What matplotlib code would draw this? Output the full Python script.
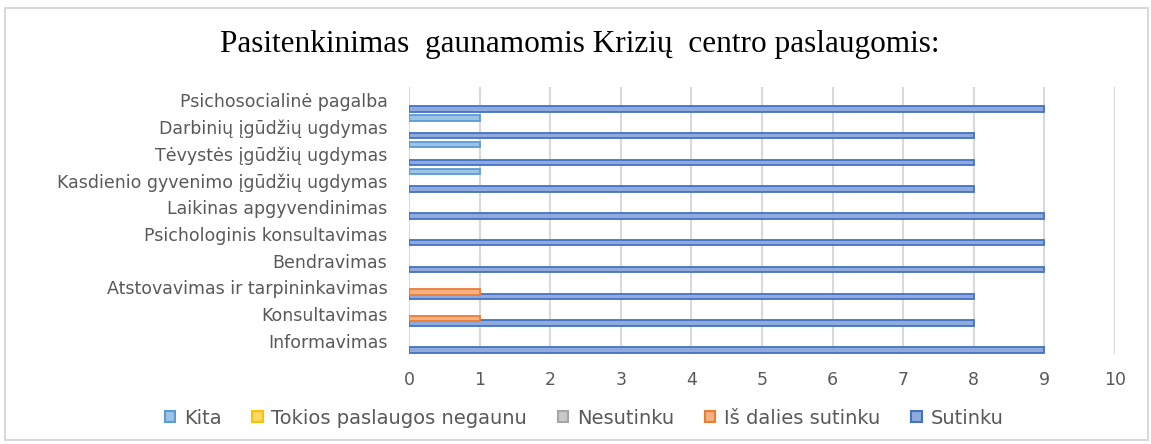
import matplotlib
matplotlib.use("Agg")
import matplotlib.pyplot as plt
from matplotlib.patches import Rectangle, Patch
import numpy as np

categories = ["Informavimas", "Konsultavimas", "Atstovavimas ir tarpininkavimas",
              "Bendravimas", "Psichologinis konsultavimas", "Laikinas apgyvendinimas",
              "Kasdienio gyvenimo įgūdžių ugdymas", "Tėvystės įgūdžių ugdymas",
              "Darbinių įgūdžių ugdymas", "Psichosocialinė pagalba"]
sutinku = [9, 8, 8, 9, 9, 9, 8, 8, 8, 9]
is_dalies = [0, 1, 1, 0, 0, 0, 0, 0, 0, 0]
nesutinku = [0, 0, 0, 0, 0, 0, 0, 0, 0, 0]
tokios = [0, 0, 0, 0, 0, 0, 0, 0, 0, 0]
kita = [0, 0, 0, 0, 0, 0, 1, 1, 1, 0]
series_names = ["Sutinku", "Iš dalies sutinku", "Nesutinku", "Tokios paslaugos negaunu", "Kita"]
series_vals = [sutinku, is_dalies, nesutinku, tokios, kita]
edge_cols = ["#4472C4", "#ED7D31", "#A5A5A5", "#FFC000", "#5B9BD5"]
fill_cols = ["#8FAADC", "#F4B183", "#C9C9C9", "#FFD966", "#9DC3E6"]

W, H = 1151, 444
fig = plt.figure(figsize=(W/100, H/100), dpi=100)
fig.patches.append(Rectangle((5/W, 4/H), 1143/W, 432/H, transform=fig.transFigure,
                             fill=False, edgecolor="#D9D9D9", linewidth=1.5))
ax = fig.add_axes([409/W, 1-354.4/H, (1115-409)/W, 267.8/H])

slot = 0.165
y = np.arange(len(categories))
for i, (name, vals) in enumerate(zip(series_names, series_vals)):
    vals = np.asarray(vals, dtype=float)
    mask = vals > 0
    pos = y - (2 - i) * slot
    ax.barh(pos[mask], vals[mask], height=slot * 1.25,
            color=fill_cols[i], edgecolor=edge_cols[i], linewidth=1.3, zorder=3)

ax.set_xlim(0, 10)
ax.set_ylim(-0.5, len(categories) - 0.5)
ax.set_xticks(range(0, 11))
ax.set_yticks(y)
ax.set_yticklabels(categories)
ax.tick_params(axis="both", length=0, colors="#595959", labelsize=12.5)
ax.tick_params(axis="y", pad=15.5)
ax.tick_params(axis="x", pad=12)
ax.grid(axis="x", color="#D9D9D9", linewidth=1.5, zorder=0)
for s in ax.spines.values():
    s.set_visible(False)

fig.text(580/W, 1-52/H, "Pasitenkinimas  gaunamomis Krizių  centro paslaugomis:",
         ha="center", va="baseline", fontsize=22.5, family="Liberation Serif", color="#000000")

handles = [Patch(facecolor=fill_cols[i], edgecolor=edge_cols[i], linewidth=1.5, label=series_names[i])
           for i in [4, 3, 2, 1, 0]]
fig.legend(handles=handles, loc="center", bbox_to_anchor=(584/W, 1-418/H), ncol=5, frameon=False,
           fontsize=14, labelcolor="#595959", handlelength=0.52, handleheight=0.52,
           handletextpad=0.45, columnspacing=1.6, borderpad=0)

fig.savefig("out.png", dpi=100)
